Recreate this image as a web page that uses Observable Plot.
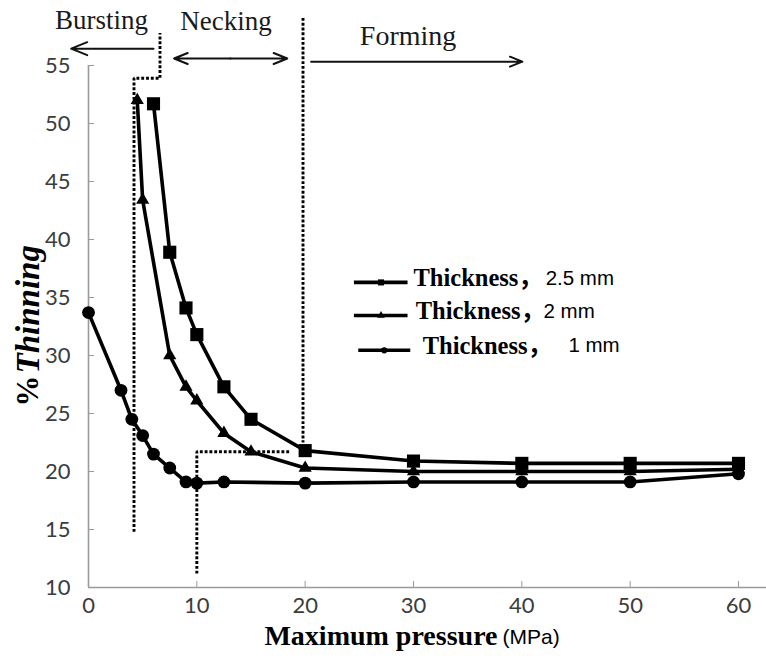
<!DOCTYPE html>
<html>
<head>
<meta charset="utf-8">
<script src="https://cdn.jsdelivr.net/npm/d3@7"></script>
<script src="https://cdn.jsdelivr.net/npm/@observablehq/plot@0.6"></script>
<style>
  html, body { margin: 0; padding: 0; background: #fff; }
  #chart svg { display: block; }
</style>
</head>
<body>
<div id="chart"></div>
<script>
// ---- data ----
const pressure25 = [6, 7.5, 9, 10, 12.5, 15, 20, 30, 40, 50, 60];
const thinning25 = [51.7, 38.9, 34.1, 31.8, 27.3, 24.5, 21.8, 20.9, 20.7, 20.7, 20.7];

const pressure20 = [4.5, 5, 7.5, 9, 10, 12.5, 15, 20, 30, 40, 50, 60];
const thinning20 = [52.0, 43.4, 30.0, 27.3, 26.1, 23.3, 21.7, 20.3, 20.0, 20.0, 20.0, 20.2];

const pressure10 = [0, 3, 4, 5, 6, 7.5, 9, 10, 12.5, 20, 30, 40, 50, 60];
const thinning10 = [33.7, 27.0, 24.5, 23.1, 21.5, 20.3, 19.1, 19.0, 19.1, 19.0, 19.1, 19.1, 19.1, 19.8];

const xTicks = [0, 10, 20, 30, 40, 50, 60];
const yTicks = [10, 15, 20, 25, 30, 35, 40, 45, 50, 55];

// regime boundaries (dotted): [pressure, thinning]
const burstBoundary = [[4.2, 14.8], [4.2, 53.9], [6.6, 53.9], [6.6, 57.8]];
const neckBoundary = [[10, 11.2], [10, 21.7], [18.6, 21.7]];
const formBoundary = [[19.8, 59.1], [19.8, 22.5]];

const regionLabels = ["Bursting", "Necking", "Forming"];
const seriesLabels = ["Thickness，", "Thickness，", "Thickness，"];
const seriesThickness = ["2.5 mm", "2 mm", "1 mm"];
const seriesSymbols = ["square", "triangle", "circle"];

// ---- build tables ----
const zip = (xs, ys) => xs.map((x, i) => ({x, y: ys[i]}));
const s25 = zip(pressure25, thinning25);
const s20 = zip(pressure20, thinning20);
const s10 = zip(pressure10, thinning10);
const toPts = arr => arr.map(([x, y]) => ({x, y}));

const serif = "'Liberation Serif', 'Times New Roman', serif";
const legendSerif = "'Liberation Serif', 'Noto Sans CJK SC', serif";
const sans = "'Liberation Sans', Arial, sans-serif";
const tickFont = "Lato, 'Liberation Sans', sans-serif";

// legend rows (annotation placement in data space)
const legendY = [36.3, 33.45, 30.45];
const legendRows = seriesLabels.map((label, i) => ({
  label, thick: seriesThickness[i], symbol: seriesSymbols[i], y: legendY[i],
  x1: i === 2 ? 24.9 : 24.5, x2: i === 2 ? 29.7 : 29.45,
  xm: i === 2 ? 27.3 : 27.0,
  xt: [30.0, 30.2, 30.85][i], xn: [42.2, 42.0, 44.3][i]
}));

const dotted = {x: "x", y: "y", stroke: "#000", strokeWidth: 2.9, strokeDasharray: "2.9,1.9", strokeLinecap: "butt", strokeLinejoin: "miter"};

const chart = Plot.plot({
  width: 766,
  height: 660,
  marginLeft: 88,
  marginRight: 28,
  marginTop: 65,
  marginBottom: 73,
  x: {domain: [0, 60]},
  y: {domain: [10, 55]},
  style: {background: "#fff", overflow: "visible"},
  marks: [
    // axis lines
    Plot.ruleX([0], {stroke: "#9a9a9a", strokeWidth: 1.6}),
    Plot.ruleY([10], {x1: 0, x2: 62.6, stroke: "#9a9a9a", strokeWidth: 1.6}),
    Plot.axisY({ticks: yTicks, tickSize: -6, tickPadding: 24, stroke: "#9a9a9a", label: null,
      fontSize: 22, fontFamily: tickFont, fill: "#3c3c3c"}),
    Plot.axisX({ticks: xTicks, tickSize: -6, tickPadding: 16, stroke: "#9a9a9a", label: null,
      fontSize: 22, fontFamily: tickFont, fill: "#3c3c3c"}),

    // dotted regime boundaries
    Plot.line(toPts(burstBoundary), dotted),
    Plot.line(toPts(neckBoundary), dotted),
    Plot.line(toPts(formBoundary), dotted),

    // series
    Plot.line(s25, {x: "x", y: "y", stroke: "#000", strokeWidth: 3.6}),
    Plot.line(s20, {x: "x", y: "y", stroke: "#000", strokeWidth: 3.6}),
    Plot.line(s10, {x: "x", y: "y", stroke: "#000", strokeWidth: 3.6}),
    Plot.dot(s25, {x: "x", y: "y", symbol: "square", r: 7.4, fill: "#000"}),
    Plot.dot(s20, {x: "x", y: "y", symbol: "triangle", r: 4.9, fill: "#000"}),
    Plot.dot(s10, {x: "x", y: "y", symbol: "circle", r: 6.4, fill: "#000"}),

    // regime arrows and labels
    Plot.arrow([{x1: 6.0, x2: -1.6, y: 56.45}], {x1: "x1", x2: "x2", y1: "y", y2: "y", stroke: "#111", strokeWidth: 2, headLength: 13, headAngle: 44}),
    Plot.arrow([{x1: 13.1, x2: 7.9, y: 55.6}, {x1: 13.1, x2: 18.35, y: 55.6}], {x1: "x1", x2: "x2", y1: "y", y2: "y", stroke: "#111", strokeWidth: 2, headLength: 11, headAngle: 44}),
    Plot.arrow([{x1: 20.55, x2: 40.05, y: 55.33}], {x1: "x1", x2: "x2", y1: "y", y2: "y", stroke: "#111", strokeWidth: 2, headLength: 10, headAngle: 44}),
    Plot.text([regionLabels[0]], {x: 1.2, y: 58.85, fontSize: 27, fontFamily: serif, fill: "#1a1a1a"}),
    Plot.text([regionLabels[1]], {x: 12.7, y: 58.8, fontSize: 27, fontFamily: serif, fill: "#1a1a1a"}),
    Plot.text([regionLabels[2]], {x: 29.5, y: 57.55, fontSize: 28, fontFamily: serif, fill: "#1a1a1a"}),

    // legend
    Plot.link(legendRows, {x1: "x1", x2: "x2", y1: "y", y2: "y", stroke: "#000", strokeWidth: 3.6}),
    Plot.dot(legendRows, {x: "xm", y: "y", symbol: "symbol", r: d => d.symbol === "square" ? 6 : d.symbol === "triangle" ? 4.2 : 5, fill: "#000"}),
    Plot.text(legendRows, {x: "xt", y: d => d.y + 0.38, text: "label", textAnchor: "start", fontSize: 24.5, fontWeight: "bold", fontFamily: legendSerif, fill: "#000"}),
    Plot.text(legendRows, {x: "xn", y: d => d.y + 0.38, text: "thick", textAnchor: "start", fontSize: 20.5, fontFamily: sans, fill: "#000"}),

    // axis titles
    Plot.text(["Maximum pressure"], {frameAnchor: "bottom", dx: 84, dy: 57, textAnchor: "end", fontSize: 28, fontWeight: "bold", fontFamily: serif, fill: "#000"}),
    Plot.text(["(MPa)"], {frameAnchor: "bottom", dx: 89, dy: 56, textAnchor: "start", fontSize: 21, fontFamily: sans, fill: "#000"}),
    Plot.text(["%"], {frameAnchor: "left", dx: -60, dy: 80, rotate: -90, textAnchor: "start", fontSize: 31, fontWeight: "bold", fontFamily: serif, fill: "#000"}),
    Plot.text(["Thinning"], {frameAnchor: "left", dx: -60, dy: 47, rotate: -90, textAnchor: "start", fontSize: 33, fontWeight: "bold", fontStyle: "italic", fontFamily: serif, fill: "#000"})
  ]
});
document.getElementById("chart").appendChild(chart);
</script>
</body>
</html>
